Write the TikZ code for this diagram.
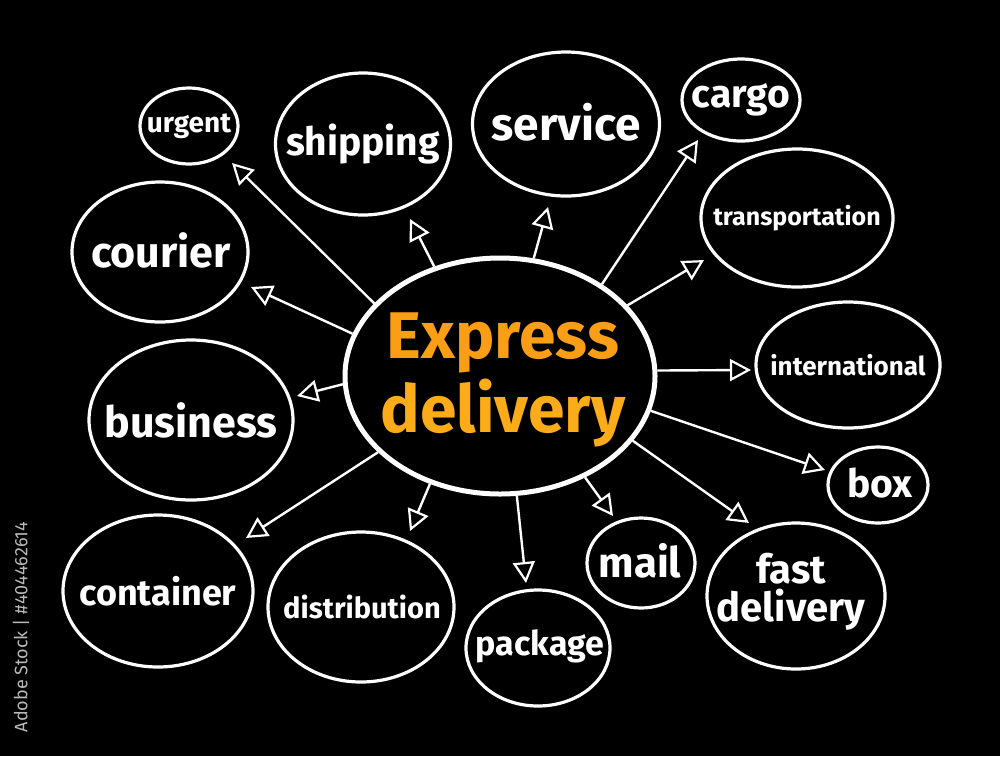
\documentclass[tikz,border=0pt]{standalone}
\usepackage{fontspec}
\setmainfont{Fira Sans}
\usetikzlibrary{shapes.geometric,arrows.meta}
\definecolor{orng}{RGB}{250,158,22}
\definecolor{orngb}{RGB}{252,172,24}
\definecolor{wm}{RGB}{185,185,185}
\begin{document}
\begin{tikzpicture}[x=1pt,y=-1pt,
  bub/.style={draw=white, line width=3.2pt, ellipse, inner sep=0pt},
  lbl/.style={text=white, inner sep=0pt, align=center, font=\bfseries\fontsize{#1}{#1}\selectfont},
  arr/.style={draw=white, line width=2.4pt, -{Triangle[open, length=21pt, width=22pt, line width=2.2pt]}}]
\useasboundingbox (0,0) rectangle (1000,756);
\fill[black] (0,0) rectangle (1000,756);

% central idea
\node[bub, line width=5pt, minimum width=310pt, minimum height=236pt] (main) at (500,376) {};
\node[inner sep=0pt, align=center, font=\bfseries\fontsize{66}{74}\selectfont] (maint) at (503,380)
  {\textcolor{orng}{Express}\\\textcolor{orngb}{delivery}};

% satellites
\node[bub, minimum width=98pt, minimum height=76pt] (urgent) at (189,126) {};
\node[lbl=28] (urgent-t) at (189,126) {urgent};

\node[bub, minimum width=175pt, minimum height=142pt] (shipping) at (363,144) {};
\node[lbl=39] (shipping-t) at (363,144) {shipping};

\node[bub, minimum width=187pt, minimum height=144pt] (service) at (566,124) {};
\node[lbl=46] (service-t) at (566,122) {service};

\node[bub, minimum width=118pt, minimum height=82pt] (cargo) at (741,100) {};
\node[lbl=39] (cargo-t) at (741,100) {cargo};

\node[bub, minimum width=192pt, minimum height=138pt] (transp) at (797,218) {};
\node[lbl=25] (transp-t) at (797,218) {transportation};

\node[bub, minimum width=176pt, minimum height=140pt] (courier) at (160,252) {};
\node[lbl=43] (courier-t) at (161,250) {courier};

\node[bub, minimum width=184pt, minimum height=126pt] (intl) at (848,365) {};
\node[lbl=26] (intl-t) at (848,365) {international};

\node[bub, minimum width=204pt, minimum height=160pt] (business) at (191,420) {};
\node[lbl=43] (business-t) at (191,420) {business};

\node[bub, minimum width=100pt, minimum height=76pt] (box) at (878,485) {};
\node[lbl=39] (box-t) at (880,483) {box};

\node[bub, minimum width=190pt, minimum height=152pt] (container) at (158,591) {};
\node[lbl=36] (container-t) at (158,591) {container};

\node[bub, minimum width=186pt, minimum height=150pt] (distrib) at (361,607) {};
\node[lbl=29] (distrib-t) at (362,607) {distribution};

\node[bub, minimum width=144pt, minimum height=116pt] (package) at (538,648) {};
\node[lbl=34] (package-t) at (540,646) {package};

\node[bub, minimum width=108pt, minimum height=90pt] (mail) at (641,563) {};
\node[lbl=42] (mail-t) at (640,561) {mail};

\node[bub, minimum width=178pt, minimum height=146pt] (fast) at (796,596) {};
\node[lbl=40, font=\bfseries\fontsize{40}{38}\selectfont] (fast-t) at (791,592) {fast\\delivery};

% arrow tips
\coordinate (c-urgent) at (232,163);
\coordinate (c-shipping) at (410,219);
\coordinate (c-service) at (548,207);
\coordinate (c-cargo) at (698,140);
\coordinate (c-transp) at (704,260);
\coordinate (c-courier) at (251,287);
\coordinate (c-intl) at (751,370);
\coordinate (c-business) at (297,396);
\coordinate (c-box) at (825,470);
\coordinate (c-container) at (246,538);
\coordinate (c-distrib) at (410,531);
\coordinate (c-package) at (526,583);
\coordinate (c-mail) at (613,516);
\coordinate (c-fast) at (749,523);

\draw[arr] (main.150) -- (c-urgent);
\draw[arr] (main.121) -- (c-shipping);
\draw[arr] (main.74) -- (c-service);
\draw[arr] (main.42) -- (c-cargo);
\draw[arr] (main.29) -- (c-transp);
\draw[arr] (main.164) -- (c-courier);
\draw[arr] (main.2) -- (c-intl);
\draw[arr] (main.183) -- (c-business);
\draw[arr] (main.-13) -- (c-box);
\draw[arr] (main.212) -- (c-container);
\draw[arr] (main.237) -- (c-distrib);
\draw[arr] (main.278) -- (c-package);
\draw[arr] (main.310) -- (c-mail);
\draw[arr] (main.334) -- (c-fast);

% stock watermark line
\node[rotate=90, text=wm, inner sep=0pt, font=\fontsize{18}{18}\selectfont] (stock) at (21,627) {Adobe Stock | \#404462614};
\end{tikzpicture}
\end{document}
